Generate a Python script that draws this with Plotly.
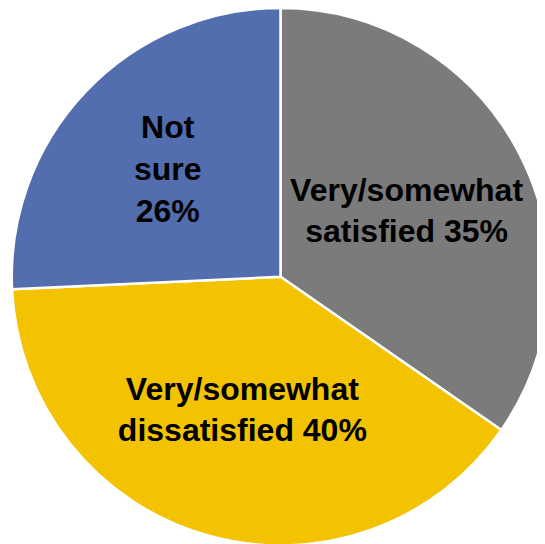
import plotly.graph_objects as go

labels = ["Very/somewhat satisfied", "Very/somewhat dissatisfied", "Not sure"]
values = [35, 40, 26]
slice_text = ["Very/somewhat<br>satisfied 35%", "Very/somewhat<br>dissatisfied 40%", "Not<br>sure<br>26%"]
colors = ["#7B7B7B", "#F3C200", "#526EAF"]

fig = go.Figure(go.Pie(
    labels=labels,
    values=values,
    text=slice_text,
    textinfo="text",
    textposition="inside",
    insidetextorientation="horizontal",
    sort=False,
    direction="clockwise",
    rotation=0,
    marker=dict(colors=colors, line=dict(color="white", width=2.5)),
    textfont=dict(family="Liberation Sans, Arial", size=32, color="black", weight="bold"),
    hoverinfo="skip",
    domain=dict(x=[0, 1], y=[0.012, 1]),
))
fig.update_layout(
    width=545, height=544,
    margin=dict(l=0, r=0, t=0, b=0),
    showlegend=False,
    paper_bgcolor="white",
    uniformtext=dict(minsize=32, mode="show"),
)
fig.write_html("out.html")
